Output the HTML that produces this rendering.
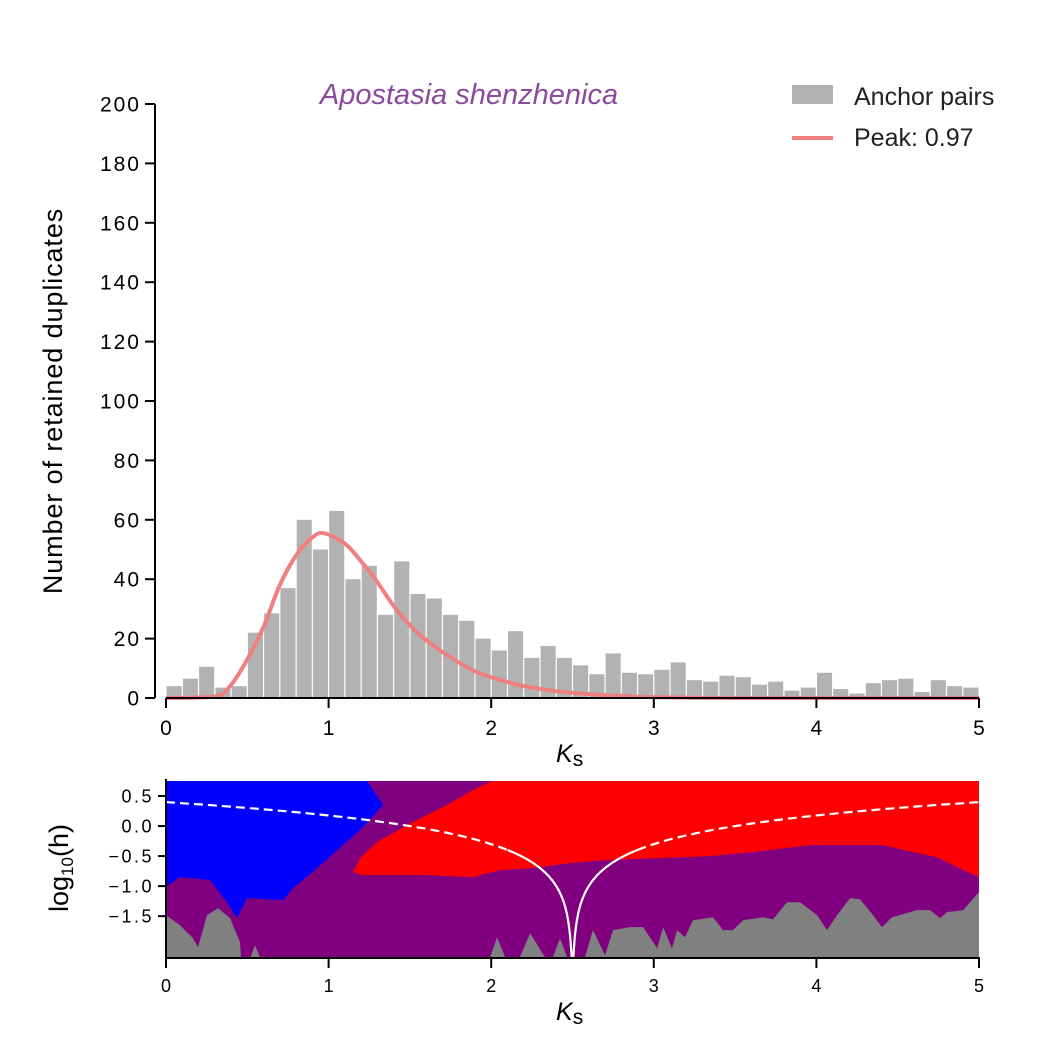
<!DOCTYPE html>
<html><head><meta charset="utf-8"><style>
html,body{margin:0;padding:0;background:#fff;}
svg{display:block;font-family:"Liberation Sans",Arial,sans-serif;}
</style></head><body>
<svg id="chart" width="1042" height="1042" viewBox="0 0 1042 1042">
<g id="topPanel"></g>
<g id="botPanel"></g>
</svg>
<script>
const binStarts=[0,0.1,0.2,0.3,0.4,0.5,0.6,0.7,0.8,0.9,1.0,1.1,1.2,1.3,1.4,1.5,1.6,1.7,1.8,1.9,2.0,2.1,2.2,2.3,2.4,2.5,2.6,2.7,2.8,2.9,3.0,3.1,3.2,3.3,3.4,3.5,3.6,3.7,3.8,3.9,4.0,4.1,4.2,4.3,4.4,4.5,4.6,4.7,4.8,4.9];
const counts=[4,6.5,10.5,3.5,4,22,28.5,37,60,50,63,40,44.5,28,46,35,33.5,28,26,20,16,22.5,13.5,17.5,13.5,11,8,15,8.5,8,9.5,12,6,5.5,7.5,7,4.5,5.5,2.5,3.5,8.5,3,1.5,5,6,6.5,2,6,4,3.5];
const fitK=[0,0.3,0.4,0.5,0.6,0.7,0.8,0.9,0.97,1.1,1.2,1.3,1.4,1.5,1.6,1.7,1.8,1.9,2.0,2.2,2.4,2.6,2.8,3.0,3.5,5];
const fitY=[0,0.5,4.4,13,24,38,48,54,55.5,52,46,39,31,24.5,19.5,15.5,12,9,7,4,2.3,1.3,0.7,0.3,0,0];
const yTicks=[0,20,40,60,80,100,120,140,160,180,200];
const xTicks=[0,1,2,3,4,5];
const hTicks=[0.5,0.0,-0.5,-1.0,-1.5];
const hTickLabels=["0.5","0.0","\u22120.5","\u22121.0","\u22121.5"];
const blueRegion=[[0,0.75],[1.236,0.75],[1.335,0.35],[1.193,-0.067],[0.929,-0.70],[0.781,-1.033],[0.72,-1.233],[0.498,-1.2],[0.437,-1.533],[0.375,-1.267],[0.271,-0.9],[0.086,-0.85],[0.012,-0.983],[0,-0.983]];
const redRegion=[[2.005,0.75],[1.888,0.6],[1.728,0.35],[1.482,0.017],[1.298,-0.267],[1.193,-0.533],[1.15,-0.767],[1.212,-0.817],[1.605,-0.817],[1.888,-0.85],[2.054,-0.733],[2.251,-0.7],[2.485,-0.617],[2.7,-0.567],[3.346,-0.5],[3.61,-0.433],[3.758,-0.383],[3.961,-0.317],[4.41,-0.317],[4.594,-0.433],[4.742,-0.517],[4.865,-0.683],[5,-0.85],[5,0.75]];
const grayRegion=[[0,-2.18],[0,-1.483],[0.086,-1.65],[0.166,-1.867],[0.197,-2.017],[0.252,-1.483],[0.32,-1.367],[0.394,-1.533],[0.455,-1.933],[0.461,-2.18],[0.52,-2.18],[0.547,-1.983],[0.578,-2.18],[1.993,-2.18],[2.036,-1.85],[2.085,-2.18],[2.177,-2.18],[2.239,-1.783],[2.33,-2.18],[2.38,-2.18],[2.423,-1.867],[2.466,-2.18],[2.577,-2.18],[2.626,-1.733],[2.7,-2.15],[2.749,-1.733],[2.854,-1.683],[2.934,-1.683],[3.02,-2.033],[3.057,-1.683],[3.112,-2.033],[3.143,-1.733],[3.192,-1.85],[3.241,-1.567],[3.364,-1.517],[3.426,-1.733],[3.487,-1.733],[3.549,-1.567],[3.672,-1.517],[3.733,-1.55],[3.819,-1.267],[3.899,-1.267],[4.004,-1.483],[4.065,-1.733],[4.127,-1.483],[4.207,-1.2],[4.268,-1.217],[4.348,-1.483],[4.403,-1.683],[4.465,-1.517],[4.619,-1.4],[4.699,-1.4],[4.76,-1.533],[4.803,-1.433],[4.902,-1.4],[5,-1.1],[5,-2.18]];

const NS="http://www.w3.org/2000/svg";
function mk(parent,tag,attrs,text){const e=document.createElementNS(NS,tag);for(const k in attrs)e.setAttribute(k,attrs[k]);if(text!==undefined)e.textContent=text;parent.appendChild(e);return e;}
const X0=166,X1=979;
const xs=k=>X0+(X1-X0)*k/5;
const ys=v=>698-(698-104)*v/200;
const HT=0.75,HB=-2.18,PT=781,PB=957;
const hs=v=>PT+(PB-PT)*(HT-v)/(HT-HB);

const topG=document.getElementById('topPanel');
binStarts.forEach((b,i)=>{
 const r=mk(topG,'rect',{x:xs(b)+0.6,y:ys(counts[i]),width:xs(0.1)-xs(0)-1.2,height:ys(0)-ys(counts[i]),fill:'#b2b2b2'});
 
 
});
const P=fitK.map((k,i)=>[xs(k),ys(fitY[i])]);
let d='M'+P[0][0].toFixed(1)+','+P[0][1].toFixed(1);
for(let i=0;i<P.length-1;i++){
 const p0=P[Math.max(0,i-1)],p1=P[i],p2=P[i+1],p3=P[Math.min(P.length-1,i+2)];
 let c1=[p1[0]+(p2[0]-p0[0])/6,p1[1]+(p2[1]-p0[1])/6];
 let c2=[p2[0]-(p3[0]-p1[0])/6,p2[1]-(p3[1]-p1[1])/6];
 c1[1]=Math.min(c1[1],ys(0));c2[1]=Math.min(c2[1],ys(0));
 d+='C'+c1[0].toFixed(1)+','+c1[1].toFixed(1)+' '+c2[0].toFixed(1)+','+c2[1].toFixed(1)+' '+p2[0].toFixed(1)+','+p2[1].toFixed(1);
}
const fc=mk(topG,'path',{d:d,fill:'none',stroke:'#f08080','stroke-width':4,'stroke-linejoin':'round'});


const ya=mk(topG,'line',{x1:155,y1:104,x2:155,y2:698,stroke:'#000','stroke-width':2});


yTicks.forEach(t=>{
 mk(topG,'line',{x1:145,x2:155,y1:ys(t),y2:ys(t),stroke:'#000','stroke-width':2});
 const tl=mk(topG,'text',{x:141,y:ys(t)+7.5,'text-anchor':'end','font-size':21,'letter-spacing':2},String(t));
 
 
});
const xa=mk(topG,'line',{x1:X0,y1:698,x2:X1,y2:698,stroke:'#000','stroke-width':2});


xTicks.forEach(t=>{
 mk(topG,'line',{x1:xs(t),x2:xs(t),y1:698,y2:708,stroke:'#000','stroke-width':2});
 const tl=mk(topG,'text',{x:xs(t),y:735,'text-anchor':'middle','font-size':21},String(t));
 
 
});
const yl=mk(topG,'text',{x:0,y:0,transform:'translate(62,401) rotate(-90)','text-anchor':'middle','font-size':27,'letter-spacing':0.9},'Number of retained duplicates');


const xl=mk(topG,'text',{x:556,y:762,'font-size':25});
xl.innerHTML='<tspan font-style="italic">K</tspan><tspan font-size="21" dy="4">s</tspan>';


const tt=mk(topG,'text',{x:469,y:104,'text-anchor':'middle','font-size':29,'font-style':'italic',fill:'#8a4b9e'},'Apostasia shenzhenica');


const lg=mk(topG,'g',{});


mk(lg,'rect',{x:792,y:85,width:41,height:19,fill:'#b2b2b2'});
mk(lg,'text',{x:854,y:105,'font-size':25,fill:'#222'},'Anchor pairs');
mk(lg,'line',{x1:792,x2:833,y1:138,y2:138,stroke:'#f08080','stroke-width':4});
mk(lg,'text',{x:854,y:146,'font-size':25,fill:'#222'},'Peak: 0.97');

const botG=document.getElementById('botPanel');
mk(botG,'rect',{x:X0,y:PT,width:X1-X0,height:PB-PT,fill:'#800080'});
function poly(pts,fill,name){
 const p=mk(botG,'polygon',{points:pts.map(q=>xs(q[0]).toFixed(1)+','+hs(q[1]).toFixed(1)).join(' '),fill:fill});
 
 
}
poly(blueRegion,'#0000ff','blue-region');
poly(redRegion,'#ff0000','red-region');
poly(grayRegion,'#808080','gray-region');
function seg(k0,k1,dash){
 const pts=[];for(let i=0;i<=80;i++){const k=k0+(k1-k0)*i/80;let v=Math.log10(Math.abs(k-2.5));if(!isFinite(v)||v<HB)v=HB;pts.push(xs(k).toFixed(1)+','+hs(v).toFixed(1));}
 const p=mk(botG,'polyline',{points:pts.join(' '),fill:'none',stroke:'#fff','stroke-width':2.2,'stroke-dasharray':dash});
 
 
}
seg(0,2.1,'9,5');seg(2.1,2.5,'none');seg(2.5,2.9,'none');seg(2.9,5,'9,5');
mk(botG,'line',{x1:X0,y1:PT-2,x2:X0,y2:PB,stroke:'#000','stroke-width':2});
mk(botG,'line',{x1:X0-1,y1:PB+1,x2:X1+1,y2:PB+1,stroke:'#000','stroke-width':2});
hTicks.forEach((t,i)=>{
 mk(botG,'line',{x1:X0-8,x2:X0,y1:hs(t),y2:hs(t),stroke:'#000','stroke-width':2});
 const tl=mk(botG,'text',{x:X0-12,y:hs(t)+6.5,'text-anchor':'end','font-size':18,'letter-spacing':2.5},hTickLabels[i]);
 
 
});
xTicks.forEach(t=>{
 mk(botG,'line',{x1:xs(t),x2:xs(t),y1:PB,y2:PB+11,stroke:'#000','stroke-width':2});
 const tl=mk(botG,'text',{x:xs(t),y:992,'text-anchor':'middle','font-size':18},String(t));
 
 
});
const hl=mk(botG,'text',{x:0,y:0,transform:'translate(68,868) rotate(-90)','text-anchor':'middle','font-size':27});
hl.innerHTML='log<tspan font-size="17" dy="5">10</tspan><tspan dy="-5">(h)</tspan>';


const xl2=mk(botG,'text',{x:556,y:1020,'font-size':25});
xl2.innerHTML='<tspan font-style="italic">K</tspan><tspan font-size="21" dy="4">s</tspan>';


</script>
</body></html>
